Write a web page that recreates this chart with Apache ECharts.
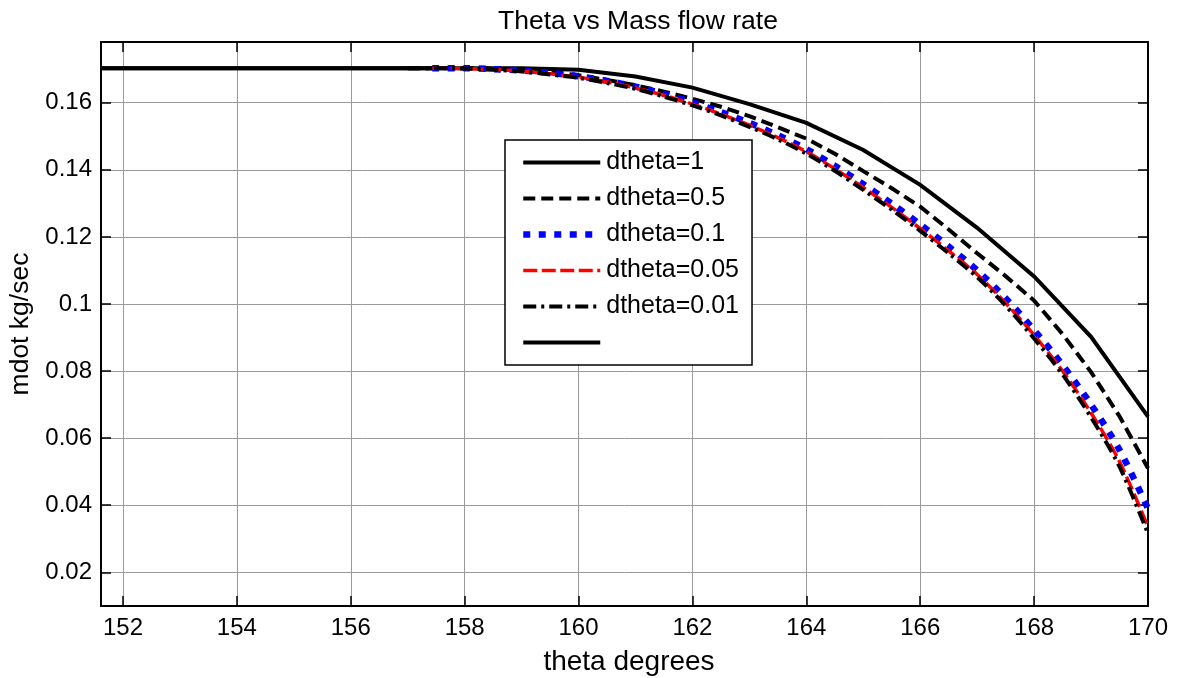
<!DOCTYPE html>
<html>
<head>
<meta charset="utf-8">
<title>Theta vs Mass flow rate</title>
<script src="https://cdn.jsdelivr.net/npm/echarts@6/dist/echarts.min.js"></script>
<style>
  html, body { margin: 0; padding: 0; background: #fff; }
  #chart { width: 1180px; height: 678px; }
</style>
</head>
<body>
<div id="chart"></div>
<script>
// theta (degrees) and mass flow (kg/sec) for each step size
const theta1 = [151.614, 152, 153, 154, 155, 156, 157, 158, 159, 160, 161, 162, 163, 164, 165, 166, 167, 168, 169, 170];
const mdot1  = [0.1703, 0.1703, 0.1703, 0.1703, 0.1703, 0.1703, 0.1703, 0.1703, 0.1703, 0.1698, 0.1678, 0.1645, 0.1596, 0.1540, 0.1459, 0.1355, 0.1227, 0.1082, 0.0902, 0.0664];

const theta05 = [157, 157.5, 158, 158.5, 159, 159.5, 160, 160.5, 161, 161.5, 162, 162.5, 163, 163.5, 164, 164.5, 165, 165.5, 166, 166.5, 167, 167.5, 168, 168.5, 169, 169.5, 170];
const mdot05  = [0.1703, 0.1703, 0.1703, 0.1702, 0.1699, 0.1692, 0.1682, 0.1668, 0.1652, 0.1633, 0.1612, 0.1588, 0.1560, 0.1527, 0.1493, 0.1448, 0.1396, 0.1345, 0.1290, 0.1222, 0.1151, 0.1083, 0.1010, 0.0910, 0.0797, 0.0665, 0.0510];

const theta01 = [157.43, 158, 158.5, 159, 159.5, 160, 160.5, 161, 161.5, 162, 162.5, 163, 163.5, 164, 164.5, 165, 165.5, 166, 166.5, 167, 167.5, 168, 168.5, 169, 169.5, 170];
const mdot01  = [0.1703, 0.1703, 0.1700, 0.1696, 0.1689, 0.1679, 0.1665, 0.1648, 0.1626, 0.1601, 0.1572, 0.1540, 0.1503, 0.1462, 0.1412, 0.1357, 0.1299, 0.1237, 0.1171, 0.1100, 0.1017, 0.0922, 0.0818, 0.0700, 0.0565, 0.0390];

const theta005 = [157.43, 158, 158.5, 159, 159.5, 160, 160.5, 161, 161.5, 162, 162.5, 163, 163.5, 164, 164.5, 165, 165.5, 166, 166.5, 167, 167.5, 168, 168.5, 169, 169.5, 170];
const mdot005  = [0.1703, 0.1702, 0.1699, 0.1694, 0.1686, 0.1676, 0.1662, 0.1644, 0.1622, 0.1596, 0.1566, 0.1533, 0.1496, 0.1454, 0.1403, 0.1347, 0.1288, 0.1225, 0.1158, 0.1088, 0.1003, 0.0907, 0.0800, 0.0675, 0.0530, 0.0335];

const theta001 = [157, 157.5, 158, 158.5, 159, 159.5, 160, 160.5, 161, 161.5, 162, 162.5, 163, 163.5, 164, 164.5, 165, 165.5, 166, 166.5, 167, 167.5, 168, 168.5, 169, 169.5, 170];
const mdot001  = [0.1703, 0.1703, 0.1702, 0.1698, 0.1693, 0.1684, 0.1674, 0.1659, 0.1641, 0.1618, 0.1592, 0.1562, 0.1528, 0.1491, 0.1448, 0.1397, 0.1340, 0.1281, 0.1218, 0.1151, 0.1080, 0.0995, 0.0897, 0.0790, 0.0662, 0.0515, 0.0315];

const thetaRef = [151.614, 157.43];
const mdotRef  = [0.1703, 0.1703];

const seriesNames = ['dtheta=1', 'dtheta=0.5', 'dtheta=0.1', 'dtheta=0.05', 'dtheta=0.01', ' '];

const xRange = [151.614, 170];
const yRange = [0.00995, 0.1781];

function pairs(xs, ys) { return xs.map((x, i) => [x, ys[i]]); }

const FONT = '"Liberation Sans", Arial, Helvetica, sans-serif';

// line look per series: colour, width, dash pattern, smoothing
const looks = [
  { color: '#000000', width: 4,   type: 'solid',        smooth: false },
  { color: '#000000', width: 4,   type: [12, 6],        smooth: false },
  { color: '#0000ff', width: 6.5, type: [7, 8.5],       smooth: 0.3 },
  { color: '#ff0000', width: 3.5, type: [14, 4.5],      smooth: 0.3 },
  { color: '#000000', width: 4,   type: [13, 5, 3, 5],  smooth: 0.3 },
  { color: '#000000', width: 4,   type: 'solid',        smooth: false }
];
const seriesData = [
  pairs(theta1, mdot1),
  pairs(theta05, mdot05),
  pairs(theta01, mdot01),
  pairs(theta005, mdot005),
  pairs(theta001, mdot001),
  pairs(thetaRef, mdotRef)
];

const chart = echarts.init(document.getElementById('chart'), null, { renderer: 'canvas' });

const lineStyleOf = (lk) => ({ color: lk.color, width: lk.width, type: lk.type, cap: 'butt', join: 'miter' });

const axisCommon = {
  axisLine: { show: true, onZero: false, lineStyle: { color: '#000', width: 2 } },
  axisTick: { show: true, inside: true, length: 10, lineStyle: { color: '#000', width: 1.5 } }
};

chart.setOption({
  animation: false,
  backgroundColor: '#fff',
  title: {
    text: 'Theta vs Mass flow rate',
    left: 633,
    textAlign: 'center',
    top: 3,
    textStyle: { fontFamily: FONT, fontSize: 26.5, fontWeight: 'normal', color: '#000' }
  },
  grid: { left: 101, right: 32, top: 42, bottom: 72, containLabel: false, outerBoundsMode: 'none' },
  legend: {
    orient: 'vertical',
    left: 505,
    top: 140,
    itemWidth: 77,
    itemHeight: 14,
    itemGap: 11,
    padding: [10, 13, 10, 15],
    backgroundColor: '#fff',
    borderColor: '#000',
    borderWidth: 1.5,
    borderRadius: 0,
    selectedMode: false,
    itemStyle: { opacity: 0 },
    textStyle: { fontFamily: FONT, fontSize: 25, color: '#000', padding: [0, 0, 0, 1] },
    data: seriesNames.map((n, i) => ({ name: n, lineStyle: lineStyleOf(looks[i]), itemStyle: { opacity: 0 } }))
  },
  xAxis: [
    Object.assign({
      type: 'value', position: 'bottom', min: xRange[0], max: xRange[1], splitNumber: 9,
      name: 'theta degrees', nameLocation: 'middle', nameGap: 42,
      nameTextStyle: { fontFamily: FONT, fontSize: 28, color: '#000', padding: [0, 0, 0, 9] },
      axisLabel: { show: true, showMinLabel: false, margin: 10, color: '#000', fontFamily: FONT, fontSize: 24 },
      splitLine: { show: true, lineStyle: { color: '#9a9a9a', width: 1 } }
    }, axisCommon),
    Object.assign({
      type: 'value', position: 'top', min: xRange[0], max: xRange[1], splitNumber: 9,
      axisLabel: { show: false }, splitLine: { show: false }
    }, axisCommon)
  ],
  yAxis: [
    Object.assign({
      type: 'value', position: 'left', min: yRange[0], max: yRange[1], splitNumber: 8,
      name: 'mdot kg/sec', nameLocation: 'middle', nameGap: 66,
      nameTextStyle: { fontFamily: FONT, fontSize: 26.5, color: '#000' },
      axisLabel: { show: true, showMinLabel: false, showMaxLabel: false, margin: 9, color: '#000', fontFamily: FONT, fontSize: 24 },
      splitLine: { show: true, lineStyle: { color: '#9a9a9a', width: 1 } }
    }, axisCommon),
    Object.assign({
      type: 'value', position: 'right', min: yRange[0], max: yRange[1], splitNumber: 8,
      axisLabel: { show: false }, splitLine: { show: false }
    }, axisCommon)
  ],
  series: seriesNames.map((name, i) => ({
    name: name,
    type: 'line',
    data: seriesData[i],
    symbol: 'none',
    showSymbol: false,
    smooth: looks[i].smooth,
    xAxisIndex: 0,
    yAxisIndex: 0,
    lineStyle: lineStyleOf(looks[i]),
    itemStyle: { color: looks[i].color },
    emphasis: { disabled: true },
    animation: false
  }))
});
</script>
</body>
</html>
